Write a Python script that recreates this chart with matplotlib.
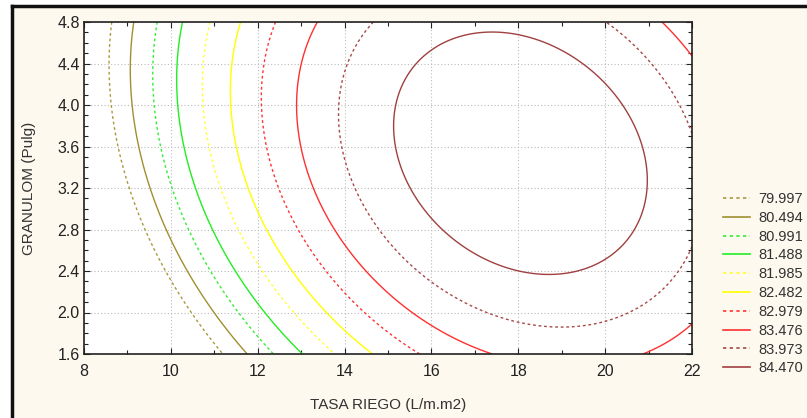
import numpy as np
import matplotlib
matplotlib.use("Agg")
import matplotlib.pyplot as plt
from matplotlib.lines import Line2D

# ---- data -----------------------------------------------------------
# fitted second-order response surface (canonical form)
z_max = 84.94          # stationary value
x_center = 18.05       # TASA RIEGO at optimum
y_center = 3.535       # GRANULOM at optimum
coef_xx = 0.058        # curvature in x
coef_yy = 0.3626       # curvature in y
coef_xy = 0.065        # interaction

levels = [79.997, 80.494, 80.991, 81.488, 81.985, 82.482, 82.979, 83.476, 83.973, 84.470]
level_colors = ['#a89a3c', '#a09030', '#33ee33', '#22ee22', '#ffff33', '#ffff00',
                '#ff3333', '#ff3030', '#a84848', '#a04040']
level_styles = ['dotted', 'solid'] * 5

x_ticks = [8, 10, 12, 14, 16, 18, 20, 22]
y_ticks = [1.6, 2.0, 2.4, 2.8, 3.2, 3.6, 4.0, 4.4, 4.8]
x_label = "TASA RIEGO (L/m.m2)"
y_label = "GRANULOM (Pulg)"

# ---- figure ---------------------------------------------------------
plt.rcParams['font.family'] = ['Liberation Sans', 'DejaVu Sans']
W, H = 807, 418
fig = plt.figure(figsize=(W / 100, H / 100), dpi=100, facecolor='white')

# cream panel with a dark frame on left/top
panel = fig.add_axes([12 / W, 0, 1 - 12 / W, 1 - 6 / H])
panel.set_facecolor('#fdf9ee')
panel.set_xticks([]); panel.set_yticks([])
for s in ['right', 'bottom']:
    panel.spines[s].set_visible(False)
for s in ['left', 'top']:
    panel.spines[s].set_linewidth(2.5)
    panel.spines[s].set_color('#111111')
panel.set_zorder(0)

ax = fig.add_axes([84 / W, 1 - 354 / H, (692 - 84) / W, (354 - 22) / H])
ax.set_facecolor('white')
ax.set_zorder(1)

xg = np.linspace(8, 22, 300)
yg = np.linspace(1.6, 4.8, 300)
X, Y = np.meshgrid(xg, yg)
U = X - x_center
V = Y - y_center
Z = z_max - (coef_xx * U ** 2 + coef_yy * V ** 2 + coef_xy * U * V)

for lev, col, ls in zip(levels, level_colors, level_styles):
    ax.contour(X, Y, Z, levels=[lev], colors=[col],
               linestyles=[(0, (2, 2)) if ls == 'dotted' else 'solid'],
               linewidths=1.0)

ax.set_xlim(8, 22)
ax.set_ylim(1.6, 4.8)
ax.set_xticks(x_ticks)
ax.set_yticks(y_ticks)
ax.set_xticklabels([str(t) for t in x_ticks])
ax.set_yticklabels([f"{t:.1f}" for t in y_ticks])
ax.set_xticks(np.arange(8, 22.01, 1), minor=True)
ax.set_yticks(np.arange(1.6, 4.81, 0.1), minor=True)
ax.tick_params(which='both', direction='in', top=True, right=True,
               labelsize=11.5, colors='#222222', length=3, width=0.8)
ax.tick_params(which='major', length=4)
ax.tick_params(axis='x', which='major', pad=7)
ax.tick_params(axis='y', which='major', pad=3)
ax.grid(True, which='major', linestyle=(0, (1, 2)), color='#bbbbbb', linewidth=0.8)
for s in ax.spines.values():
    s.set_linewidth(1.2)
    s.set_color('#222222')

ax.set_xlabel(x_label, fontsize=11, color='#333333', labelpad=14)
ax.set_ylabel(y_label, fontsize=11, color='#333333', labelpad=15)

handles = [Line2D([0], [0], color=c, lw=1.2,
                  linestyle=(0, (2, 2)) if s == 'dotted' else 'solid')
           for c, s in zip(level_colors, level_styles)]
fig.legend(handles, [f"{l:.3f}" for l in levels], loc='upper left',
           bbox_to_anchor=(723 / W, 1 - 192 / H), frameon=False,
           fontsize=10.5, handlelength=1.85, handletextpad=0.55,
           labelspacing=0.33, labelcolor='#333333', borderpad=0,
           borderaxespad=0)

fig.savefig("out.png", dpi=100, facecolor='white')
